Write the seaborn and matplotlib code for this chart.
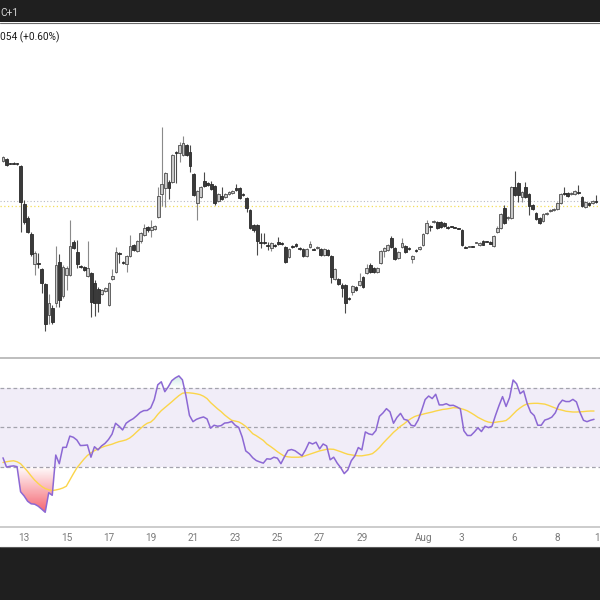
import numpy as np
import pandas as pd
import matplotlib
matplotlib.use("Agg")
import matplotlib.pyplot as plt
from matplotlib.patches import Rectangle
from matplotlib.lines import Line2D
from matplotlib.path import Path
import seaborn as sns

# ---------------- data (4h candles, price units arbitrary) ----------------
opens = [239,241,237,237,237,234,196,182,166,136,
         137,131,116,85,92,97,138,104,125,125,
         158,148,134,133,124,127,117,111,106,109,
         95,121,128,147,138,136,144,155,149,159,
         165,173,170,171,183,206,212,218,218,248,
         247,245,255,248,226,197,203,219,217,216,
         214,199,204,203,206,207,212,212,206,202,
         190,175,175,158,158,155,152,155,158,157,
         153,143,154,156,152,151,144,153,151,152,
         151,145,150,144,121,121,115,115,102,108,
         113,115,123,127,135,132,128,137,149,150,
         162,152,142,153,154,152,141,150,151,155,
         167,174,178,178,178,177,173,174,173,172,
         170,153,153,154,157,155,159,159,158,154,
         168,172,192,182,182,213,217,203,213,206,
         195,187,182,179,186,189,190,191,197,207,
         207,206,206,208,203,193,197,197,199]
closes = [243,235,236,236,236,198,178,168,146,147,
          136,117,76,97,78,135,100,133,132,154,
          152,136,133,130,132,98,97,97,110,112,
          117,124,148,146,137,144,154,150,159,167,
          172,170,173,174,204,216,227,212,245,247,
          255,257,245,234,205,209,213,214,215,211,
          197,206,201,206,208,209,210,202,205,192,
          172,170,159,157,157,154,157,154,156,156,
          138,151,153,154,151,144,151,156,150,153,
          145,151,145,123,131,116,112,97,101,114,
          110,119,113,132,128,128,132,149,152,155,
          153,141,148,157,148,151,144,149,153,166,
          177,173,179,172,173,174,172,173,172,171,
          155,152,154,153,158,157,155,158,156,164,
          172,186,177,183,213,205,205,208,203,194,
          191,181,177,186,187,190,191,197,206,206,
          204,207,209,207,194,198,195,199,198]
highs = [244,242,237,238,237,235,200,184,168,149,
         147,132,117,106,95,154,146,135,134,180,
         160,160,135,134,159,128,120,113,111,113,
         118,131,153,148,139,145,165,156,160,168,
         176,174,180,175,213,273,228,220,246,249,
         258,264,256,255,227,210,214,228,218,219,
         215,207,213,207,209,210,216,213,207,203,
         191,176,176,167,167,158,158,156,163,158,
         154,152,155,157,153,152,152,159,152,154,
         152,152,151,145,132,122,117,116,103,115,
         114,127,124,136,137,133,133,150,153,156,
         164,153,149,162,155,153,145,151,154,167,
         180,175,180,179,179,178,174,174,173,172,
         171,154,154,154,158,158,160,159,159,165,
         174,187,195,184,214,229,218,209,218,207,
         196,188,183,187,188,191,192,198,207,213,
         208,208,210,215,204,199,198,200,205]
lows = [238,234,236,236,235,168,176,167,144,125,
        132,107,69,76,76,93,93,102,110,124,
        151,132,132,129,123,83,84,88,105,108,
        94,120,127,137,136,128,143,149,148,157,
        164,168,163,170,182,194,193,201,217,217,
        238,244,244,228,204,180,202,213,214,210,
        195,198,200,202,205,206,209,201,204,188,
        171,168,145,152,156,150,149,153,155,155,
        137,142,152,153,150,143,143,152,150,151,
        144,144,144,117,120,115,103,87,100,105,
        109,114,112,126,127,127,127,136,143,149,
        152,140,141,152,147,150,137,148,150,154,
        166,169,177,171,172,173,171,173,172,171,
        154,152,153,153,157,154,155,158,156,153,
        167,171,176,180,181,204,198,198,202,185,
        190,180,176,178,185,188,189,190,196,205,
        203,205,205,206,193,192,194,196,197]

rsi = [34.5, 29.8, 30.2, 30.4, 30.0, 17.3, 15.2, 12.5, 11.2, 11.0,
       10.0, 8.5, 6.9, 16.8, 15.5, 35.9, 31.5, 39.8, 39.8, 45.5,
       44.9, 43.5, 40.7, 40.8, 41.0, 34.8, 40.1, 38.5, 40.5, 41.8,
       43.8, 46.5, 52.0, 50.5, 48.6, 52.0, 53.3, 54.3, 55.8, 57.5,
       58.4, 58.5, 59.8, 64.0, 71.5, 73.0, 68.0, 70.5, 73.6, 75.0,
       76.0, 74.0, 66.0, 56.0, 52.8, 54.0, 54.7, 55.2, 54.2, 49.5,
       51.0, 50.5, 50.8, 52.1, 52.3, 52.9, 51.0, 49.9, 45.0, 38.0,
       36.6, 34.5, 33.1, 32.4, 31.8, 34.0, 33.8, 34.8, 34.3, 31.5,
       35.0, 38.2, 38.7, 38.1, 36.8, 35.5, 38.5, 42.3, 41.5, 42.4,
       39.0, 41.5, 40.5, 33.5, 34.8, 31.8, 29.5, 26.5, 28.3, 33.0,
       35.4, 39.7, 38.5, 47.6, 46.6, 46.2, 48.3, 55.5, 57.2, 59.4,
       57.8, 52.0, 55.0, 57.0, 54.0, 53.5, 51.0, 50.6, 53.6, 58.5,
       64.0, 65.8, 64.5, 66.7, 61.3, 61.3, 61.9, 61.0, 61.1, 60.3,
       59.3, 48.2, 45.8, 45.8, 47.6, 49.7, 47.8, 50.5, 49.8, 50.5,
       56.0, 61.0, 65.5, 60.5, 65.0, 73.9, 72.0, 67.0, 68.4, 62.0,
       57.6, 55.9, 51.0, 51.0, 53.6, 54.2, 55.1, 57.3, 61.5, 63.7,
       63.0, 63.0, 64.1, 62.8, 57.5, 53.5, 52.8, 53.5, 54.0]
rsi_ma = [32.1, 32.5, 32.8, 33.0, 32.5, 31.5, 29.6, 27.6, 25.3, 23.2,
          21.5, 20.0, 18.9, 18.3, 17.9, 18.2, 18.6, 19.2, 20.1, 23.3,
          26.4, 29.4, 31.6, 33.8, 35.7, 37.0, 38.1, 39.0, 39.7, 40.4,
          40.9, 41.4, 42.1, 42.7, 43.1, 43.6, 44.5, 45.9, 47.6, 49.2,
          50.8, 52.0, 52.6, 54.2, 56.5, 58.4, 59.9, 61.4, 62.9, 64.5,
          66.0, 67.2, 67.5, 67.4, 67.2, 66.9, 66.5, 65.7, 64.5, 62.5,
          60.9, 59.3, 57.9, 56.2, 54.8, 53.5, 53.1, 52.7, 51.7, 50.4,
          48.6, 46.7, 45.7, 44.5, 43.3, 41.5, 40.3, 39.0, 37.6, 36.4,
          35.3, 35.0, 34.8, 34.8, 34.8, 35.0, 35.6, 36.2, 36.8, 37.4,
          38.0, 38.4, 38.8, 38.9, 38.8, 38.2, 37.6, 36.9, 36.3, 36.0,
          35.7, 35.5, 35.5, 35.8, 36.1, 36.6, 38.0, 39.7, 41.8, 43.7,
          45.5, 47.4, 48.9, 50.5, 51.7, 53.2, 54.4, 55.4, 56.0, 56.4,
          56.9, 57.3, 57.7, 58.2, 58.6, 59.0, 59.2, 59.5, 59.9, 59.8,
          59.5, 59.0, 58.3, 57.3, 56.2, 55.0, 54.1, 53.2, 52.6, 52.3,
          52.5, 52.8, 53.0, 53.4, 54.8, 56.6, 58.4, 59.8, 61.0, 61.8,
          62.0, 62.1, 62.1, 61.9, 61.7, 61.1, 60.4, 59.7, 59.0, 58.6,
          58.1, 57.9, 57.7, 57.7, 57.8, 57.9, 58.1, 58.2, 58.2]

tick_pos = [6, 18, 30, 42, 54, 66, 78, 90, 102, 119.5, 130.3, 145.3, 157.5, 169.7]
tick_labels = ["13", "15", "17", "19", "21", "23", "25", "27", "29", "Aug", "3", "6", "8", "10"]
last_price_line = 199
ma_price_line = 194
header_left = "C+1"
header_info = "054 (+0.60%)"

# ---------------- setup ----------------
sns.set_theme(style="white")
plt.rcParams['font.family'] = ['Roboto', 'DejaVu Sans']

n = len(opens)
idx = np.arange(n)
o = np.array(opens, float); c = np.array(closes, float)
h = np.array(highs, float); l = np.array(lows, float)
r = np.array(rsi, float); m = np.array(rsi_ma, float)

fig = plt.figure(figsize=(6, 6), dpi=100)
fig.patch.set_facecolor("white")

XL = (-0.85, 169.12)

ax_c = fig.add_axes([0, 1 - 357 / 600, 1, 335 / 600])
ax_r = fig.add_axes([0, 1 - 526.7 / 600, 1, 167.4 / 600])

# ---------------- candles ----------------
up = c >= o
wick_col = np.where(up, "#8a8a8a", "#4a4a4a")
ax_c.vlines(idx, l, h, colors=wick_col, linewidth=0.8, zorder=2)
body_bottom = np.minimum(o, c)
body_h = np.maximum(np.abs(c - o), 1.0)
ax_c.bar(idx[up], body_h[up], bottom=body_bottom[up], width=0.78,
         color="#c9c9c9", edgecolor="#4d4d4d", linewidth=0.6, zorder=3)
ax_c.bar(idx[~up], body_h[~up], bottom=body_bottom[~up], width=0.78,
         color="#3a3a3a", edgecolor="#2a2a2a", linewidth=0.6, zorder=3)
ax_c.axhline(last_price_line, color="#b8bac2", linestyle=(0, (1, 2)), linewidth=0.8, zorder=1)
ax_c.axhline(ma_price_line, color="#f3de5a", linestyle=(0, (1, 2)), linewidth=0.9, zorder=1)
ax_c.set_xlim(*XL)
ax_c.set_ylim(43, 378)
ax_c.axis("off")

# ---------------- RSI ----------------
ax_r.axhspan(30, 70, color="#7e57c2", alpha=0.1, lw=0, zorder=0)
for lev in (70, 50, 30):
    ax_r.axhline(lev, color="#a3a3ad", linestyle=(0, (3, 2.2)), linewidth=0.9, zorder=1)

def gradient_fill(ax, where_mask, lo, hi, rgb, alpha_at_lo, alpha_at_hi, base):
    poly = ax.fill_between(idx, r, base, where=where_mask, interpolate=True,
                           color="none", linewidth=0)
    paths = poly.get_paths()
    if not paths:
        return
    cp = Path.make_compound_path(*paths)
    img = np.zeros((256, 1, 4))
    img[..., 0] = rgb[0]; img[..., 1] = rgb[1]; img[..., 2] = rgb[2]
    img[:, 0, 3] = np.linspace(alpha_at_lo, alpha_at_hi, 256)
    im = ax.imshow(img, extent=[XL[0], XL[1], lo, hi], origin="lower",
                   aspect="auto", zorder=2, interpolation="bilinear")
    im.set_clip_path(cp, transform=ax.transData)

gradient_fill(ax_r, r < 30, 0, 30, (0.95, 0.21, 0.27), 1.0, 0.0, 30)
gradient_fill(ax_r, r > 70, 70, 100, (0.03, 0.6, 0.5), 0.0, 1.0, 70)

df = pd.DataFrame({"t": idx, "rsi": r, "ma": m})
sns.lineplot(data=df, x="t", y="ma", ax=ax_r, color="#fbd54a", linewidth=1.0, zorder=3)
sns.lineplot(data=df, x="t", y="rsi", ax=ax_r, color="#8c68d4", linewidth=1.1, zorder=4)

ax_r.set_xlim(*XL)
ax_r.set_ylim(-0.4, 84.4)
ax_r.set_xlabel(""); ax_r.set_ylabel("")
ax_r.set_yticks([])
ax_r.set_xticks(tick_pos)
ax_r.set_xticklabels(tick_labels)
ax_r.tick_params(axis="x", length=0, pad=4.5, labelsize=7.2, labelcolor="#7a7a7a")
for s in ("top", "left", "right"):
    ax_r.spines[s].set_visible(False)
ax_r.spines["bottom"].set_color("#c4c4c4")
ax_r.spines["bottom"].set_linewidth(1.2)
ax_r.set_facecolor("none")

# pane separator
fig.add_artist(Line2D([0, 1], [1 - 358.3 / 600] * 2, transform=fig.transFigure,
                      color="#b9b9b9", linewidth=1.3))

# ---------------- frame bars ----------------
fig.add_artist(Rectangle((0, 1 - 22 / 600), 1, 22 / 600, transform=fig.transFigure,
                         facecolor="#1f1f1f", edgecolor="none", zorder=10))
fig.add_artist(Line2D([0, 1], [1 - 22.5 / 600] * 2, transform=fig.transFigure,
                      color="#6a6a6a", linewidth=0.8, zorder=11))
fig.add_artist(Rectangle((0, 0), 1, 53 / 600, transform=fig.transFigure,
                         facecolor="#1f1f1f", edgecolor="none", zorder=10))
fig.add_artist(Line2D([0, 1], [53.5 / 600] * 2, transform=fig.transFigure,
                      color="#5a5a5a", linewidth=0.8, zorder=11))

fig.text(0.0, 1 - 12.5 / 600, header_left, color="#d6d6d6", fontsize=7.3,
         va="center", ha="left", zorder=12)
fig.text(0.0, 1 - 37 / 600, header_info, color="#1a1a1a", fontsize=7.3,
         va="center", ha="left", zorder=12)

fig.savefig("out.png", dpi=100)
